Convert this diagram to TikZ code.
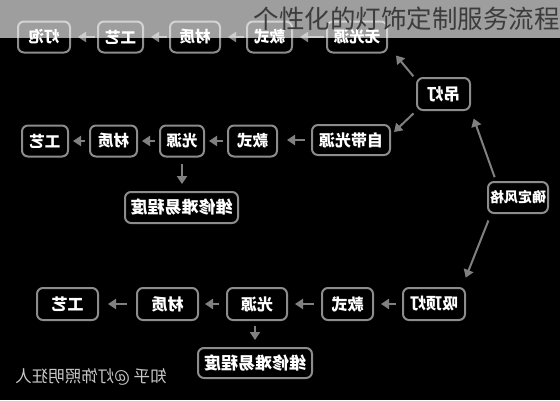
\documentclass[tikz,border=0pt]{standalone}
\usepackage{fontspec}
\setmainfont{Noto Sans CJK SC}
\usepackage{graphicx}
\usetikzlibrary{arrows.meta,calc}
\definecolor{boxline}{HTML}{8C8C8C}
\definecolor{arr}{HTML}{808080}
\definecolor{titlec}{HTML}{3C3C3C}
\definecolor{wm}{HTML}{C8C8C8}
\tikzset{
  box/.style={draw=boxline, line width=2pt, rounded corners=6pt, fill=black, text=white,
    inner sep=0pt, minimum height=31pt, font=\bfseries\fontsize{15.5}{15.5}\selectfont},
  fs/.style={font=\bfseries\fontsize{#1}{#1}\selectfont},
  flow/.style={draw=arr, line width=2pt, -{Triangle[length=8pt,width=10pt]},
    shorten >=4pt, shorten <=4pt},
}
\begin{document}
\begin{tikzpicture}[x=1pt,y=-1pt]
\useasboundingbox (0,0) rectangle (560,400);
\fill[black] (0,0) rectangle (560,400);

% top row
\node[box, minimum width=52pt] (a1) at (44,37) {\reflectbox{灯泡}};
\node[box, minimum width=45pt] (a2) at (120.5,37) {\reflectbox{工艺}};
\node[box, minimum width=50pt] (a3) at (195,37) {\reflectbox{材质}};
\node[box, minimum width=45pt] (a4) at (269.5,37) {\reflectbox{款式}};
\node[box, minimum width=60pt] (a5) at (357,37) {\reflectbox{无光源}};

% middle
\node[box, minimum width=53pt, minimum height=32pt, fs=16.5] (dd) at (443.5,94) {\reflectbox{吊灯}};
\node[box, minimum width=60pt, fs=14] (qd) at (518,197.5) {\reflectbox{确定风格}};

% row 2
\node[box, minimum width=46pt] (b1) at (45,141) {\reflectbox{工艺}};
\node[box, minimum width=47pt] (b2) at (113.5,141) {\reflectbox{材质}};
\node[box, minimum width=44pt] (b3) at (182,141) {\reflectbox{光源}};
\node[box, minimum width=49pt] (b4) at (252.5,141) {\reflectbox{款式}};
\node[box, minimum width=78pt, minimum height=30pt, fs=16] (b5) at (351,140) {\reflectbox{自带光源}};
\node[box, minimum width=113pt, fs=17] (b6) at (181.5,207.5) {\reflectbox{维修难易程度}};

% row 3
\node[box, minimum width=62pt, minimum height=32pt, fs=16] (c5) at (434,304) {\reflectbox{吸顶灯}};
\node[box, minimum width=51pt, minimum height=32pt, fs=16] (c4) at (347.5,304) {\reflectbox{款式}};
\node[box, minimum width=60pt, minimum height=32pt, fs=16] (c3) at (257,304) {\reflectbox{光源}};
\node[box, minimum width=61pt, minimum height=32pt, fs=16] (c2) at (167.5,304) {\reflectbox{材质}};
\node[box, minimum width=61pt, minimum height=32pt, fs=16] (c1) at (67.5,304) {\reflectbox{工艺}};
\node[box, minimum width=114pt, minimum height=30pt, fs=17] (c6) at (255,363) {\reflectbox{维修难易程度}};

% watermark
\node[text=wm, inner sep=0pt, font=\fontsize{16.5}{16.5}\selectfont] (wmk) at (91,377) {\reflectbox{知乎 @灯饰照明狂人}};

% arrows top row
\draw[flow, shorten >=7pt, shorten <=2pt] (a2.west) -- (a1.east);
\draw[flow, shorten >=7pt, shorten <=2pt] (a3.west) -- (a2.east);
\draw[flow, shorten >=7pt, shorten <=2pt] (a4.west) -- (a3.east);
\draw[flow, shorten >=7pt, shorten <=2pt] (a5.west) -- (a4.east);

% row 2 arrows
\draw[flow] (b2.west) -- (b1.east);
\draw[flow] (b3.west) -- (b2.east);
\draw[flow] (b4.west) -- (b3.east);
\draw[flow, shorten >=9pt, shorten <=6pt] (b5.west) -- (b4.east |- b5.west);
\draw[flow, shorten >=7pt, shorten <=6pt] (b3.south) -- (b3.south |- b6.north);

% row 3 arrows
\draw[flow, shorten >=7pt, shorten <=6pt] (c5.west) -- (c4.east);
\draw[flow, shorten >=7pt, shorten <=7pt] (c4.west) -- (c3.east);
\draw[flow, shorten >=6pt, shorten <=7pt] (c3.west) -- (c2.east);
\draw[flow, shorten >=9pt, shorten <=9pt] (c2.west) -- (c1.east);
\draw[flow, shorten >=7pt, shorten <=5pt] (c3.south -| c6.north) -- (c6.north);

% diagonal arrows
\draw[flow, shorten >=8pt, shorten <=4pt] ($(qd.north west)+(9,0)$) -- (dd.south east);
\draw[flow, shorten >=10pt, shorten <=7pt] ($(qd.south west)+(4,0)$) -- ($(c5.north east)+(-4,0)$);
\draw[flow, shorten >=0pt, shorten <=1pt] ($(dd.north west)+(-2,0)$) -- ($(a5.south east)+(8,2)$);
\draw[flow, shorten >=0pt, shorten <=2pt] ($(dd.south west)+(-1,1)$) -- ($(b5.north east)+(3,8)$);

% band and title
\fill[white, opacity=0.62] (0,0) rectangle (560,38);
\node[anchor=east, inner sep=0pt, text=titlec, font=\fontsize{25.5}{26}\selectfont] (title) at (560,19) {个性化的灯饰定制服务流程};
\end{tikzpicture}
\end{document}
